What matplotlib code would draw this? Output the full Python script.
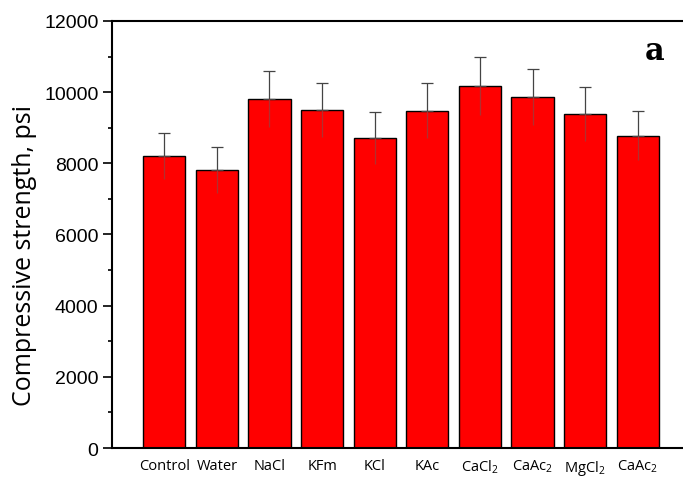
import matplotlib
matplotlib.use("Agg")
from matplotlib import pyplot as plt
from matplotlib.ticker import MultipleLocator

labels = ["Control", "Water", "NaCl", "KFm", "KCl", "KAc",
          r"CaCl$_2$", r"CaAc$_2$", r"MgCl$_2$", r"CaAc$_2$"]
strength = [8200, 7810, 9810, 9500, 8710, 9480, 10170, 9870, 9380, 8780]
err = [650, 650, 790, 760, 730, 780, 810, 790, 760, 690]

plt.rcParams["mathtext.default"] = "regular"

fig = plt.figure(figsize=(6.83, 4.81), dpi=100)
ax = fig.add_axes([0.1635, 0.0665, 0.8365, 0.8878])

x = list(range(1, len(labels) + 1))
ax.bar(x, strength, width=0.8, color="#ff0000", edgecolor="black", linewidth=1.0, zorder=2)
# upper part of error bars with caps, lower part faint inside the bars
ax.errorbar(x, strength, yerr=[[0] * len(err), err], fmt="none", ecolor="#444444",
            elinewidth=0.9, capsize=4, capthick=0.9, zorder=3)
ax.errorbar(x, strength, yerr=[err, [0] * len(err)], fmt="none", ecolor="#b03030",
            elinewidth=0.9, capsize=0, zorder=3)

ax.set_xlim(0, 10.86)
ax.set_ylim(0, 12000)
ax.yaxis.set_major_locator(MultipleLocator(2000))
ax.yaxis.set_minor_locator(MultipleLocator(1000))
ax.tick_params(axis="y", which="major", direction="out", length=6.5, width=1.2,
               labelsize=14, pad=3)
ax.tick_params(axis="y", which="minor", direction="out", length=3, width=1.2)
for t in ax.get_yticklabels():
    t.set_family("Liberation Sans")

ax.set_xticks(x)
ax.set_xticklabels(labels, family="Open Sans", fontsize=10.5)
ax.tick_params(axis="x", length=0, pad=7)

ax.spines["right"].set_visible(False)
for s in ["left", "bottom", "top"]:
    ax.spines[s].set_linewidth(1.5)

ax.set_ylabel("Compressive strength, psi", family="Open Sans", fontsize=18)
ax.yaxis.set_label_coords(-0.131, 0.454)
ax.text(655 / 683, 1 - 52 / 481, "a", transform=fig.transFigure, family="DejaVu Serif",
        fontweight="bold", fontsize=22, ha="center", va="center")

fig.savefig("out.png", dpi=100)
